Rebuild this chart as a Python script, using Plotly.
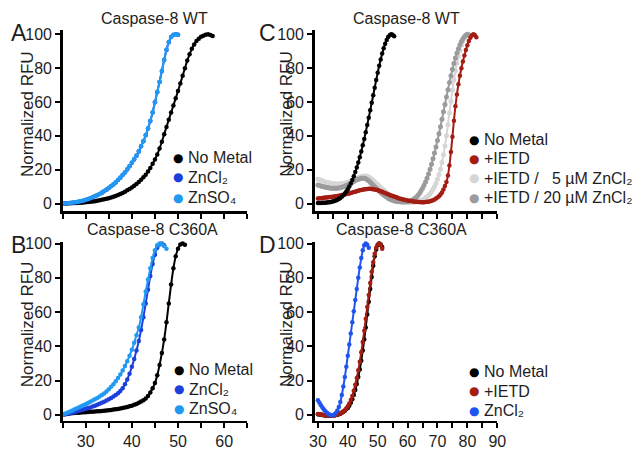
import plotly.graph_objects as go

W, H = 643, 450
FONT = "Liberation Sans, Arial, sans-serif"
TXT = "#1e1e1e"
STEP = 0.5  # temperature step of the melt curves (deg C)

# ---------------- Panel A : Caspase-8 WT (start 25 C) ----------------
a_nometal = [0.0, 0.05, 0.1, 0.15, 0.2, 0.25, 0.3, 0.4, 0.5, 0.6,
             0.7, 0.85, 1.0, 1.2, 1.4, 1.65, 1.9, 2.2, 2.5, 2.85,
             3.2, 3.6, 4.0, 4.5, 5.0, 5.6, 6.3, 7.0, 7.8, 8.6,
             9.5, 10.5, 11.5, 12.7, 14.0, 15.5, 17.0, 19.0, 21.0, 23.5,
             26.0, 29.0, 32.5, 36.5, 41.0, 45.2, 49.5, 53.8, 58.0, 62.2,
             66.5, 71.0, 75.5, 80.0, 84.5, 88.2, 91.5, 94.0, 96.0, 97.4,
             98.5, 99.2, 99.7, 100.0, 99.6, 99.0]
a_zncl2 = [0.0, 0.1, 0.2, 0.3, 0.4, 0.6, 0.8, 1.1, 1.4, 1.7,
           2.1, 2.6, 3.1, 3.7, 4.3, 4.9, 5.6, 6.4, 7.3, 8.2,
           9.2, 10.2, 11.3, 12.5, 13.9, 15.3, 16.8, 18.4, 20.1, 22.0,
           24.1, 26.1, 28.2, 30.8, 33.8, 36.8, 40.3, 44.3, 48.8, 53.8,
           59.8, 65.8, 71.8, 78.3, 84.8, 90.8, 95.3, 98.4, 99.6, 100.0,
           99.7]
a_znso4 = [0.0, 0.1, 0.2, 0.3, 0.5, 0.7, 0.9, 1.2, 1.5, 1.8,
           2.2, 2.7, 3.2, 3.8, 4.4, 5.0, 5.7, 6.5, 7.4, 8.3,
           9.3, 10.3, 11.4, 12.6, 14.0, 15.4, 16.9, 18.5, 20.2, 22.2,
           24.3, 26.3, 28.4, 31.0, 34.0, 37.0, 40.5, 44.5, 49.0, 54.0,
           60.0, 66.0, 72.0, 78.5, 85.0, 91.0, 95.5, 98.5, 99.7, 100.0,
           99.8]

# ---------------- Panel B : Caspase-8 C360A (start 25 C) ----------------
b_nometal = [0.0, 0.3, 0.5, 0.7, 0.9, 1.0, 1.1, 1.2, 1.3, 1.4,
             1.5, 1.6, 1.7, 1.8, 1.9, 2.0, 2.1, 2.2, 2.3, 2.5,
             2.6, 2.8, 3.0, 3.2, 3.4, 3.6, 3.9, 4.2, 4.5, 4.9,
             5.3, 5.8, 6.3, 7.0, 7.7, 8.5, 9.5, 11.0, 13.0, 15.5,
             18.5, 23.0, 29.0, 36.0, 44.0, 54.0, 65.0, 76.0, 85.5, 92.5,
             97.0, 99.5, 100.0, 99.3]
b_zncl2 = [0.0, 0.3, 0.6, 0.9, 1.2, 1.5, 1.9, 2.3, 2.7, 3.1,
           3.5, 3.9, 4.3, 4.8, 5.3, 5.8, 6.4, 7.0, 7.6, 8.3,
           9.0, 9.8, 10.6, 11.5, 12.5, 13.8, 15.5, 17.8, 20.6, 24.0,
           28.0, 32.5, 37.5, 43.0, 49.5, 57.0, 65.0, 73.0, 81.0, 88.0,
           93.5, 97.5, 99.5, 100.0, 99.0]
b_znso4 = [0.0, 0.6, 1.2, 1.8, 2.4, 3.0, 3.6, 4.2, 4.9, 5.5,
           6.2, 6.9, 7.6, 8.3, 9.0, 9.8, 10.6, 11.5, 12.4, 13.6,
           14.9, 16.3, 17.8, 19.5, 21.4, 23.5, 25.9, 28.4, 31.3, 34.5,
           38.0, 42.0, 46.5, 51.0, 57.0, 64.5, 72.0, 79.0, 85.5, 91.5,
           96.0, 99.0, 100.0, 99.6, 98.5, 97.0]

# ---------------- Panel C : Caspase-8 WT + IETD (start 30 C) ----------------
c_nometal = [0.3, 0.3, 0.3, 0.4, 0.4, 0.5, 0.6, 0.7, 0.8, 1.0,
             1.2, 1.5, 1.8, 2.2, 2.7, 3.3, 4.0, 4.9, 5.9, 7.1,
             8.5, 10.1, 11.9, 13.9, 16.1, 18.6, 21.3, 24.2, 27.4, 30.8,
             34.4, 38.2, 42.2, 46.4, 50.7, 55.1, 59.5, 64.0, 68.5, 73.0,
             77.3, 81.4, 85.2, 88.7, 91.8, 94.5, 96.7, 98.4, 99.5, 100.0,
             99.7, 98.9]
c_ietd = [3.0, 3.1, 3.2, 3.3, 3.4, 3.5, 3.6, 3.7, 3.8, 3.9,
          4.0, 4.2, 4.3, 4.5, 4.6, 4.8, 5.0, 5.2, 5.4, 5.6,
          5.8, 6.0, 6.3, 6.5, 6.8, 7.0, 7.3, 7.5, 7.8, 8.0,
          8.2, 8.4, 8.5, 8.6, 8.7, 8.7, 8.6, 8.5, 8.3, 8.1,
          7.8, 7.5, 7.2, 6.9, 6.5, 6.2, 5.8, 5.5, 5.1, 4.8,
          4.4, 4.1, 3.8, 3.5, 3.2, 2.9, 2.7, 2.4, 2.2, 2.0,
          1.8, 1.6, 1.5, 1.3, 1.2, 1.1, 1.0, 0.9, 0.9, 0.8,
          0.8, 0.8, 0.9, 1.0, 1.1, 1.3, 1.6, 2.0, 2.4, 3.0,
          3.5, 4.3, 5.3, 6.6, 8.3, 10.3, 12.8, 16.5, 22.5, 30.5,
          39.5, 49.0, 57.5, 64.5, 70.5, 75.5, 80.0, 84.0, 87.5, 90.8,
          93.6, 96.0, 98.0, 99.3, 100.0, 99.6, 98.3]
c_ietd_zn5 = [14.3, 14.0, 13.7, 13.4, 13.1, 12.8, 12.5, 12.3, 12.1, 11.9,
              11.8, 11.7, 11.6, 11.6, 11.6, 11.7, 11.8, 11.9, 12.1, 12.3,
              12.6, 12.9, 13.3, 13.7, 14.1, 14.5, 14.9, 15.3, 15.7, 16.0,
              16.2, 16.3, 16.3, 16.1, 15.7, 15.1, 14.4, 13.6, 12.8, 12.0,
              11.2, 10.4, 9.6, 8.8, 8.0, 7.2, 6.4, 5.7, 5.0, 4.4,
              3.8, 3.3, 2.8, 2.4, 2.0, 1.7, 1.4, 1.2, 1.0, 0.9,
              0.8, 0.7, 0.7, 0.7, 0.8, 0.9, 1.1, 1.3, 1.5, 1.8,
              2.2, 2.7, 3.3, 4.0, 4.8, 5.8, 7.0, 8.4, 10.0, 12.0,
              14.3, 17.0, 20.3, 24.2, 28.8, 34.0, 40.0, 46.5, 53.5, 60.5,
              67.0, 73.0, 78.5, 83.0, 87.0, 90.5, 93.5, 96.0, 97.8, 99.2,
              100.0, 99.6]
c_ietd_zn20 = [11.0, 10.7, 10.4, 10.1, 9.9, 9.7, 9.5, 9.3, 9.2, 9.1,
               9.0, 9.0, 9.0, 9.1, 9.2, 9.4, 9.6, 9.9, 10.2, 10.6,
               11.0, 11.5, 12.0, 12.6, 13.1, 13.6, 14.0, 14.4, 14.7, 14.9,
               15.0, 14.9, 14.6, 14.1, 13.4, 12.6, 11.7, 10.8, 9.9, 9.0,
               8.2, 7.4, 6.6, 5.8, 5.1, 4.4, 3.8, 3.2, 2.7, 2.3,
               1.9, 1.6, 1.4, 1.2, 1.1, 1.0, 0.9, 0.9, 0.9, 1.0,
               1.1, 1.3, 1.6, 2.0, 2.5, 3.1, 3.9, 4.9, 6.1, 7.5,
               9.0, 10.8, 12.8, 15.0, 17.5, 20.2, 23.2, 26.4, 29.8, 33.4,
               37.2, 41.2, 45.4, 49.8, 54.2, 58.6, 63.0, 67.3, 71.5, 75.5,
               79.3, 82.8, 86.0, 88.9, 91.5, 93.8, 95.8, 97.4, 98.6, 99.5,
               100.0, 99.6]

# ---------------- Panel D : Caspase-8 C360A (start 30 C) ----------------
d_nometal = [0.3, 0.1, 0.0, -0.1, -0.3, -0.4, -0.5, -0.5, -0.6, -0.6,
             -0.5, -0.4, -0.2, 0.0, 0.3, 0.6, 1.1, 1.7, 2.4, 3.3,
             4.0, 5.3, 7.0, 9.0, 11.5, 14.5, 18.0, 22.0, 26.5, 31.5,
             37.5, 44.0, 51.0, 58.5, 66.0, 73.5, 80.5, 87.0, 92.5, 96.5,
             99.0, 100.0, 99.5, 98.0]
d_ietd = [0.5, 0.3, 0.1, 0.0, -0.2, -0.3, -0.4, -0.5, -0.5, -0.5,
          -0.4, -0.3, -0.1, 0.1, 0.4, 0.8, 1.3, 1.9, 2.7, 3.7,
          5.0, 6.6, 8.6, 11.0, 14.0, 17.5, 21.5, 26.0, 31.0, 36.5,
          42.5, 49.0, 56.0, 63.0, 70.0, 77.0, 83.5, 89.0, 94.0, 97.5,
          99.5, 100.0, 99.0, 97.0]
d_zncl2 = [8.5, 7.0, 5.6, 4.3, 3.1, 2.1, 1.2, 0.5, 0.0, -0.3,
           -0.3, 0.2, 1.0, 2.5, 4.5, 7.5, 11.5, 16.5, 22.0, 28.0,
           34.5, 41.0, 47.5, 54.0, 60.5, 67.0, 73.5, 80.0, 86.0, 91.5,
           96.0, 99.0, 100.0, 99.3, 97.5]

# ticks
y_tickvals = [0, 20, 40, 60, 80, 100]
ab_major = [30, 40, 50, 60]
ab_minor = [25, 35, 45, 55, 65]
cd_major = [30, 40, 50, 60, 70, 80, 90]
cd_minor = [35, 45, 55, 65, 75, 85]

BLACK = "#000000"
BLUE_DARK = "#1d3fdc"
BLUE_LIGHT = "#2199f2"
BLUE_D = "#1f55ef"
RED = "#a31d12"
GRAY_LIGHT = "#d6d6d6"
GRAY_DARK = "#9b9b9b"


def temps(start, values):
    return [start + STEP * i for i in range(len(values))]


def px(x):
    return x / W


def py(y):
    return 1 - y / H


fig = go.Figure()


def add_curve(start, values, color, xa, ya, msize=4.5):
    fig.add_trace(go.Scatter(
        x=temps(start, values), y=values, mode="lines+markers",
        line=dict(color=color, width=2, shape="spline", smoothing=0.6),
        marker=dict(color=color, size=msize),
        xaxis=xa, yaxis=ya, showlegend=False, cliponaxis=False,
        hoverinfo="skip"))


# A
add_curve(25, a_nometal, BLACK, "x", "y")
add_curve(25, a_zncl2, BLUE_DARK, "x", "y")
add_curve(25, a_znso4, BLUE_LIGHT, "x", "y")
# B
add_curve(25, b_nometal, BLACK, "x2", "y2")
add_curve(25, b_zncl2, BLUE_DARK, "x2", "y2")
add_curve(25, b_znso4, BLUE_LIGHT, "x2", "y2")
# C
add_curve(30, c_ietd_zn5, GRAY_LIGHT, "x3", "y3", 5)
add_curve(30, c_ietd_zn20, GRAY_DARK, "x3", "y3", 5)
add_curve(30, c_ietd, RED, "x3", "y3")
add_curve(30, c_nometal, BLACK, "x3", "y3")
# D
add_curve(30, d_nometal, BLACK, "x4", "y4")
add_curve(30, d_ietd, RED, "x4", "y4")
add_curve(30, d_zncl2, BLUE_D, "x4", "y4")

tickfont = dict(size=16, family=FONT, color=TXT)
TICK = dict(ticks="outside", ticklen=5, tickwidth=2, tickcolor="black")


def xaxis(dom, rng, major, minor, anchor, labels):
    return dict(domain=dom, range=rng, anchor=anchor, tickmode="array",
                tickvals=major, ticktext=[str(v) for v in major],
                showticklabels=labels, **TICK,
                minor=dict(tickmode="array", tickvals=minor, showgrid=False, **TICK),
                showline=True, linewidth=2.5, linecolor="black",
                showgrid=False, zeroline=False, tickfont=tickfont,
                fixedrange=True)


def yaxis(dom, rng, anchor):
    return dict(domain=dom, range=rng, anchor=anchor, tickmode="array",
                tickvals=y_tickvals, ticktext=[str(v) for v in y_tickvals],
                **TICK, showline=True, linewidth=2.5, linecolor="black",
                showgrid=False, zeroline=False, tickfont=tickfont,
                fixedrange=True)


XL = [px(58), px(247)]
XR = [px(316), px(503)]
YT = [py(210), py(25)]
YB = [py(424), py(241)]

fig.update_layout(
    width=W, height=H, margin=dict(l=0, r=0, t=0, b=0),
    paper_bgcolor="white", plot_bgcolor="rgba(0,0,0,0)",
    font=dict(family=FONT, color=TXT),
    xaxis=xaxis(XL, [25, 65], ab_major, ab_minor, "y", False),
    yaxis=yaxis(YT, [-4.6, 102.3], "x"),
    xaxis2=xaxis(XL, [25, 65], ab_major, ab_minor, "y2", True),
    yaxis2=yaxis(YB, [-3.4, 101.1], "x2"),
    xaxis3=xaxis(XR, [28.9, 90], cd_major, cd_minor, "y3", False),
    yaxis3=yaxis(YT, [-4.6, 102.3], "x3"),
    xaxis4=xaxis(XR, [28.9, 90], cd_major, cd_minor, "y4", True),
    yaxis4=yaxis(YB, [-3.4, 101.1], "x4"),
)

ann = []


def text(x, y, s, size, xanchor="center", angle=0, color=TXT):
    ann.append(dict(x=px(x), y=py(y), xref="paper", yref="paper", text=s,
                    showarrow=False, xanchor=xanchor, yanchor="middle",
                    textangle=angle, font=dict(size=size, family=FONT, color=color)))


# panel letters
text(13, 28, "A", 23)
text(13, 244, "B", 23)
text(268, 28, "C", 23)
text(268, 244, "D", 23)
# titles
text(152, 13, "Caspase-8 WT", 16)
text(410, 13, "Caspase-8 WT", 16)
text(150, 229, "Caspase-8 C360A", 16)
text(405, 229, "Caspase-8 C360A", 16)
# y titles
text(22, 110, "Normalized RFU", 17, angle=-90)
text(287, 110, "Normalized RFU", 17, angle=-90)
text(22, 325, "Normalized RFU", 17, angle=-90)
text(287, 325, "Normalized RFU", 17, angle=-90)


def legend(dot_x, text_x, items):
    for y, color, label in items:
        ann.append(dict(x=px(dot_x), y=py(y), xref="paper", yref="paper",
                        text="●", showarrow=False, xanchor="center",
                        yanchor="middle",
                        font=dict(size=12, family="DejaVu Sans", color=color)))
        text(text_x, y, label, 16, xanchor="left")


legend(176, 184, [(155, BLACK, "No Metal"),
                  (175, BLUE_DARK, "ZnCl₂"),
                  (196, BLUE_LIGHT, "ZnSO₄")])
legend(177, 185, [(372, BLACK, "No Metal"),
                  (392, BLUE_DARK, "ZnCl₂"),
                  (412, BLUE_LIGHT, "ZnSO₄")])
legend(479, 487, [(137, BLACK, "No Metal"),
                  (156, RED, "+IETD"),
                  (176, GRAY_LIGHT, "+IETD /\u00a0\u00a0\u00a05 µM ZnCl₂"),
                  (196, GRAY_DARK, "+IETD / 20 µM ZnCl₂")])
legend(479, 487, [(374, BLACK, "No Metal"),
                  (394, RED, "+IETD"),
                  (414, BLUE_D, "ZnCl₂")])

fig.update_layout(annotations=ann)
fig.write_html("out.html",
               config={"displayModeBar": False, "staticPlot": True},
               post_script="document.body.style.margin='0';"
                           "document.body.style.overflow='hidden';")
